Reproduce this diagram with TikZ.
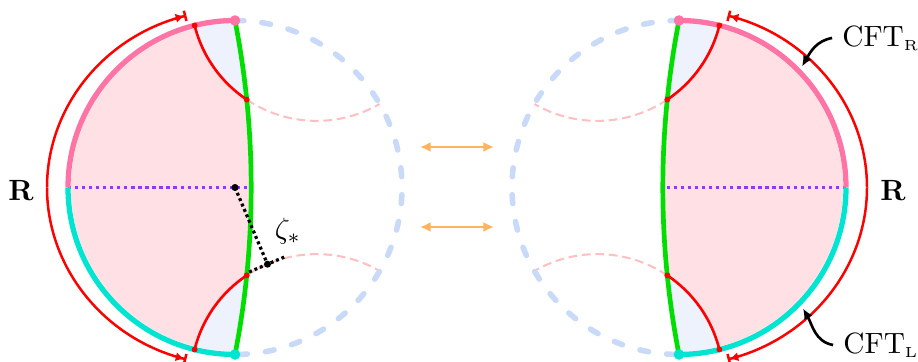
\documentclass[tikz,border=0pt]{standalone}
\usetikzlibrary{arrows.meta}

\definecolor{bulkpink}{RGB}{255,224,228}
\definecolor{wedgeblue}{RGB}{237,242,253}
\definecolor{cftpink}{RGB}{255,115,165}
\definecolor{cftcyan}{RGB}{0,228,210}
\definecolor{branegreen}{RGB}{0,222,0}
\definecolor{ghostblue}{RGB}{201,217,248}
\definecolor{geopink}{RGB}{255,192,195}
\definecolor{cutpurple}{RGB}{150,55,255}
\definecolor{swaporange}{RGB}{255,180,92}

\tikzset{
  bdyR/.style={line width=1.8pt,cftpink},
  bdyL/.style={line width=1.8pt,cftcyan},
  brane/.style={line width=1.6pt,branegreen},
  ghostbdy/.style={line width=1.9pt,ghostblue,dash pattern=on 3pt off 6.2pt,line cap=round},
  rtsurf/.style={line width=0.9pt,red},
  rtdash/.style={line width=0.7pt,geopink,dash pattern=on 3pt off 1.6pt},
  zcut/.style={line width=1.1pt,cutpurple,dash pattern=on 1.1pt off 1.3pt},
  zline/.style={line width=1.1pt,dash pattern=on 1pt off 1pt},
  flowarrow/.style={line width=0.85pt,red,-{Latex[length=2.8pt,width=3.2pt]Bar[width=3.6pt]}},
  swaparrow/.style={line width=0.9pt,swaporange,{Latex[length=3.6pt,width=3.4pt]}-{Latex[length=3.6pt,width=3.4pt]}},
  notearrow/.style={line width=0.9pt,-{Latex[length=3.6pt,width=3.2pt]}},
}

\begin{document}
\begin{tikzpicture}[x=0.012cm,y=0.012cm]
  \useasboundingbox (-235,-174.5) rectangle (683,187.5);
  \def\r{167}
  \def\halfdisk{%
    \begin{scope}
      \clip (0,0) circle (164);
      \fill[bulkpink] (90:\r) arc[start angle=90,end angle=270,radius=\r]
        arc[start angle=-11.07,end angle=11.07,radius=870] -- cycle;
    \end{scope}
    \coordinate (q1) at (11.73,87.86);
    \coordinate (q2) at (11.73,-87.86);
    \fill[wedgeblue] (104:\r) arc[start angle=194,end angle=236.22,radius=125.84]
      arc[start angle=5.80,end angle=11.07,radius=870]
      arc[start angle=90,end angle=104,radius=\r] -- cycle;
    \fill[wedgeblue] (-104:\r) arc[start angle=166,end angle=123.78,radius=125.84]
      arc[start angle=-5.80,end angle=-11.07,radius=870]
      arc[start angle=-90,end angle=-104,radius=\r] -- cycle;
    \draw[rtdash] (q1) arc[start angle=236.22,end angle=300,radius=125.84];
    \draw[rtdash] (q2) arc[start angle=123.78,end angle=60,radius=125.84];
    \draw[ghostbdy] (90:\r) arc[start angle=90,end angle=-90,radius=\r];
    \draw[zcut] (180:\r) -- (16.18,0);
    \draw[brane] (90:\r) arc[start angle=11.07,end angle=-11.07,radius=870];
    \draw[bdyR] (90:\r) arc[start angle=90,end angle=180,radius=\r];
    \draw[bdyL] (180:\r) arc[start angle=180,end angle=270,radius=\r];
    \draw[rtsurf] (104:\r) arc[start angle=194,end angle=236.22,radius=125.84];
    \draw[rtsurf] (-104:\r) arc[start angle=166,end angle=123.78,radius=125.84];
    \draw[flowarrow] (-188,0) arc[start angle=180,end angle=105,x radius=188,y radius=178];
    \draw[flowarrow] (-188,0) arc[start angle=180,end angle=255,x radius=188,y radius=178];
    \fill[cftpink] (90:\r) circle (1.8pt);
    \fill[cftcyan] (-90:\r) circle (1.8pt);
    \fill[red] (104:\r) circle (1pt) (-104:\r) circle (1pt)
      (q1) circle (1pt) (q2) circle (1pt);
  }

  % left copy
  \halfdisk
  \coordinate (ctr) at (0,0);
  \coordinate (foot) at (32.5,-76.7);
  \coordinate (tan_a) at (14.1,-84.5);
  \coordinate (tan_b) at (50.9,-68.9);
  \draw[zline] (ctr) -- (foot);
  \draw[zline] (tan_a) -- (tan_b);
  \fill (ctr) circle (1.2pt) (foot) circle (1.2pt);
  \node (zeta) at (53,-44) {$\zeta_*$};
  \node[font=\bfseries] (R_l) at (-214,-3) {R};

  % right copy
  \begin{scope}[shift={(444,0)},xscale=-1]
    \halfdisk
  \end{scope}
  \node[font=\bfseries] (R_r) at (658,-3) {R};
  \node (cft_R) at (646,149.5) {CFT$_{\scriptscriptstyle\mathrm{R}}$};
  \node (cft_L) at (646,-157.5) {CFT$_{\scriptscriptstyle\mathrm{L}}$};
  \coordinate (tip_R) at (567,121);
  \coordinate (tip_L) at (568,-121);
  \path (cft_R.west) edge[notearrow,out=190,in=60] (tip_R);
  \path (cft_L.west) edge[notearrow,out=170,in=-60] (tip_L);

  % swap arrows
  \coordinate (sw_a1) at (185,40.5);
  \coordinate (sw_a2) at (259,40.5);
  \coordinate (sw_b1) at (185,-39.5);
  \coordinate (sw_b2) at (259,-39.5);
  \draw[swaparrow] (sw_a1) -- (sw_a2);
  \draw[swaparrow] (sw_b1) -- (sw_b2);
\end{tikzpicture}
\end{document}
